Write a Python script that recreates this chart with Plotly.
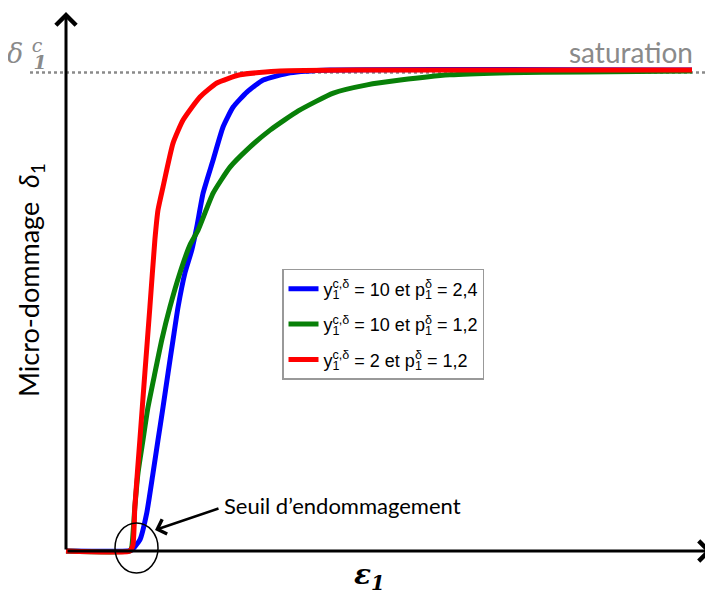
import plotly.graph_objects as go

# Curve data (strain eps normalised to curve end, damage delta normalised to saturation)
eps_blue = [0, 0.099, 0.105, 0.118, 0.129, 0.139, 0.147, 0.155, 0.163, 0.171, 0.179, 0.190, 0.201,
            0.209, 0.219, 0.235, 0.251, 0.267, 0.289, 0.315, 0.358, 0.422, 1.0]
dmg_blue = [0, 0, 0.002, 0.023, 0.079, 0.162, 0.231, 0.299, 0.370, 0.439, 0.507, 0.578, 0.626,
            0.674, 0.744, 0.813, 0.882, 0.923, 0.954, 0.979, 0.994, 1.0, 1.0]

eps_green = [0, 0.102, 0.105, 0.110, 0.115, 0.123, 0.131, 0.142, 0.153, 0.166, 0.182, 0.198, 0.211,
             0.235, 0.262, 0.289, 0.326, 0.371, 0.427, 0.481, 0.534, 0.613, 0.693, 0.826, 1.0]
dmg_green = [0, 0, 0.008, 0.092, 0.162, 0.231, 0.299, 0.370, 0.439, 0.507, 0.578, 0.636, 0.667,
             0.744, 0.798, 0.834, 0.875, 0.915, 0.952, 0.969, 0.979, 0.990, 0.994, 0.996, 0.998]

eps_red = [0, 0.102, 0.107, 0.110, 0.118, 0.126, 0.134, 0.142, 0.147, 0.155, 0.171, 0.187, 0.214,
           0.241, 0.278, 0.342, 0.474, 1.0]
dmg_red = [0, 0, 0.013, 0.092, 0.231, 0.370, 0.507, 0.647, 0.709, 0.757, 0.848, 0.896, 0.944,
           0.973, 0.990, 0.998, 1.0, 1.0]

sub1 = '<sub><span style="letter-spacing:-7px">1</span></sub>'
names = [
    'y' + sub1 + '<sup>c,δ</sup> = 10 et p' + sub1 + '<sup>δ</sup> = 2,4',
    'y' + sub1 + '<sup>c,δ</sup> = 10 et p' + sub1 + '<sup>δ</sup> = 1,2',
    'y' + sub1 + '<sup>c,δ</sup> = 2 et p' + sub1 + '<sup>δ</sup> = 1,2',
]
colors = ['#0000ff', '#088008', '#ff0000']

fig = go.Figure()
fig.add_trace(go.Scatter(x=eps_blue, y=dmg_blue, mode='lines', name=names[0], legendgroup='b',
                         line=dict(color=colors[0], width=5, shape='spline', smoothing=0.5)))
fig.add_trace(go.Scatter(x=eps_green, y=dmg_green, mode='lines', name=names[1], legendgroup='g',
                         line=dict(color=colors[1], width=5, shape='spline', smoothing=0.5)))
fig.add_trace(go.Scatter(x=eps_red, y=dmg_red, mode='lines', name=names[2], legendgroup='r',
                         line=dict(color=colors[2], width=5, shape='spline', smoothing=0.5)))

# saturation level (dotted)
fig.add_shape(type='line', x0=-0.0575, x1=1.032, y0=0.995, y1=0.995,
              line=dict(color='#8a8a8a', width=2.5, dash='dot'), layer='below')

# axes with arrow heads
fig.add_annotation(x=0, y=1.1206, ax=0, ay=0, axref='x', ayref='y', xref='x', yref='y',
                   showarrow=True, arrowhead=4, arrowsize=1.3, arrowwidth=3, arrowcolor='black', text='')
fig.add_annotation(x=1.0319, y=0, ax=0, ay=0, axref='x', ayref='y', xref='x', yref='y',
                   showarrow=True, arrowhead=4, arrowsize=1.3, arrowwidth=3, arrowcolor='black', text='')

# threshold circle + arrow
fig.add_shape(type='circle', x0=0.0783, x1=0.147, y0=-0.0457, y1=0.0582,
              line=dict(color='black', width=1.5))
fig.add_annotation(x=0.1422, y=0.0437, ax=0.246, ay=0.0894, axref='x', ayref='y',
                   showarrow=True, arrowhead=4, arrowsize=1.2, arrowwidth=2.5, arrowcolor='black', text='')
fig.add_annotation(x=0.2492, y=0.0956, text="Seuil d’endommagement", showarrow=False,
                   xanchor='left', yanchor='middle', font=dict(family='Lato', size=22, color='black'))

# labels
fig.add_annotation(x=1.0048, y=1.0374, text='saturation', showarrow=False, xanchor='right', yanchor='middle',
                   font=dict(family='Lato', size=28, color='#8a8a8a'))
fig.add_annotation(x=-0.062, y=1.035,
                   text='<i>δ</i> <sup><span style="letter-spacing:-9px"><i>c</i></span></sup><sub><b><i>1</i></b></sub>',
                   showarrow=False, xanchor='center', yanchor='middle',
                   font=dict(family='DejaVu Serif', size=27, color='#8a8a8a'))
fig.add_annotation(x=-0.0575, y=0.5634, text='Micro-dommage  <i>δ</i><sub>1</sub>', showarrow=False,
                   textangle=-90, xanchor='center', yanchor='middle',
                   font=dict(family='Lato', size=27, color='black'))
fig.add_annotation(x=0.4856, y=-0.054, text='<b><i>ε</i></b><sub><b><i>1</i></b></sub>', showarrow=False,
                   xanchor='center', yanchor='middle',
                   font=dict(family='DejaVu Serif', size=28, color='black'))

# the page body adds an 8px offset, so ranges are shifted to compensate
fig.update_xaxes(visible=False, range=[-0.09265, 1.04633])
fig.update_yaxes(visible=False, range=[-0.11642, 1.1289])
fig.update_layout(
    width=713, height=599,
    margin=dict(l=0, r=0, t=0, b=0),
    plot_bgcolor='white', paper_bgcolor='white',
    legend=dict(x=0.3843, y=0.5643, xanchor='left', yanchor='top',
                bordercolor='#999999', borderwidth=1.5, bgcolor='white',
                font=dict(family='Liberation Sans', size=18, color='black'),
                tracegroupgap=9, itemwidth=30),
)
fig.write_html("out.html")
